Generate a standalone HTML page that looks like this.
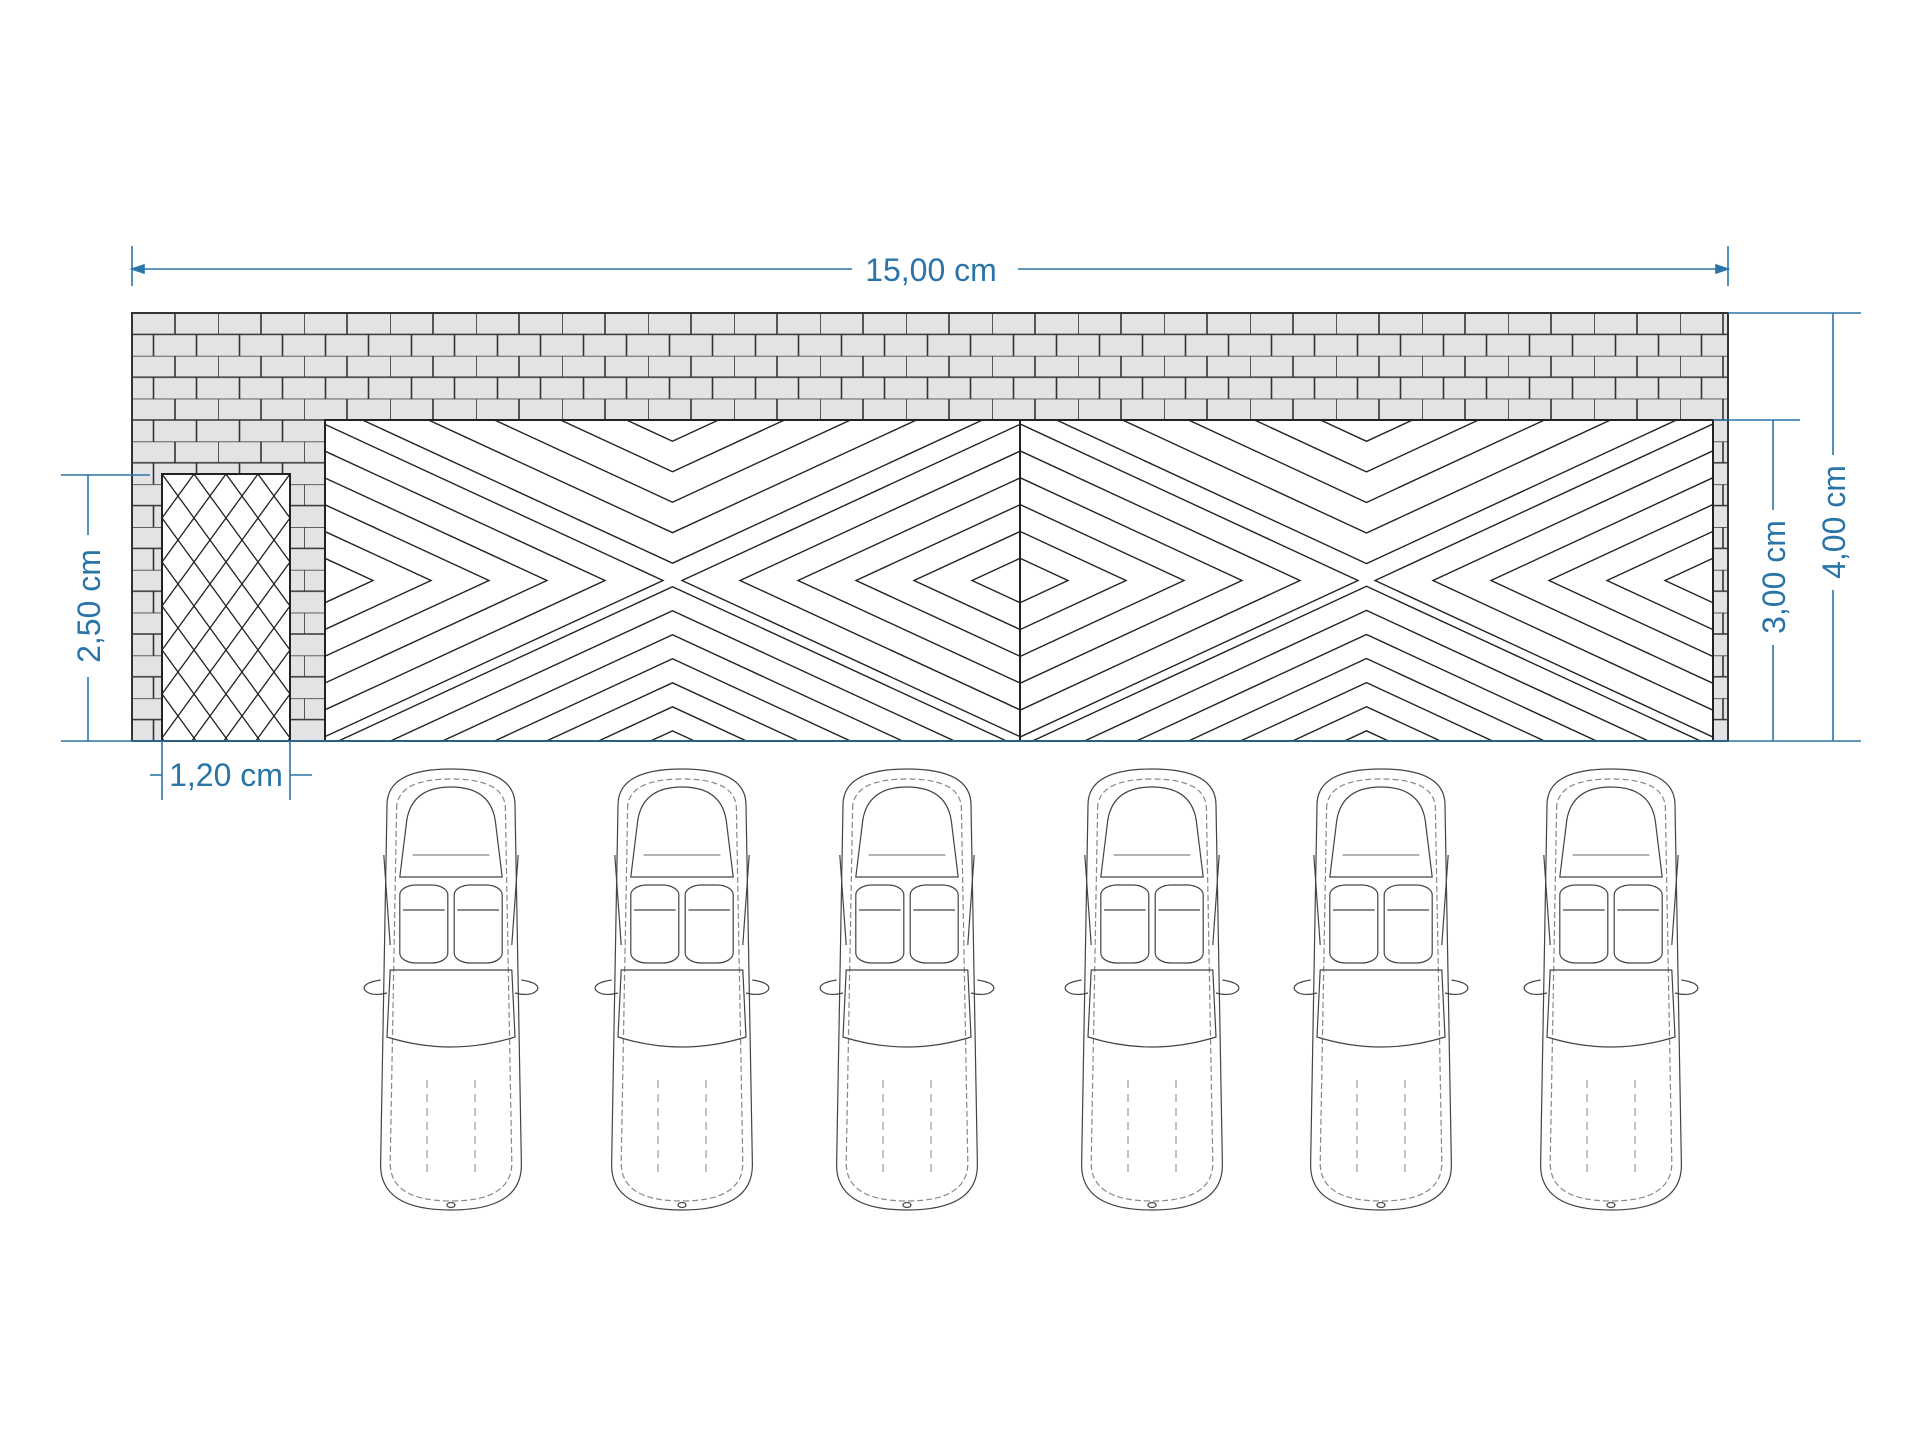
<!DOCTYPE html>
<html><head><meta charset="utf-8"><style>
html,body{margin:0;padding:0;background:#fff;}
svg{display:block;}
text{font-family:"Liberation Sans",sans-serif;fill:#2a74a8;}
#car *{vector-effect:non-scaling-stroke;}
</style></head><body>
<svg id="s" width="1920" height="1440" viewBox="0 0 1920 1440" xmlns="http://www.w3.org/2000/svg">
<defs>
<pattern id="brick" x="132" y="313" width="86" height="42.8" patternUnits="userSpaceOnUse">
<rect width="86" height="42.8" fill="#e3e3e6"/>
<g stroke="#333" stroke-width="1.6">
<line x1="0" y1="0" x2="86" y2="0"/><line x1="0" y1="21.4" x2="86" y2="21.4"/>
<line x1="0" y1="0" x2="0" y2="21.4"/><line x1="43" y1="0" x2="43" y2="21.4"/>
<line x1="21.5" y1="21.4" x2="21.5" y2="42.8"/><line x1="64.5" y1="21.4" x2="64.5" y2="42.8"/>
</g></pattern>
<pattern id="hatch" x="162" y="474" width="32" height="44" patternUnits="userSpaceOnUse">
<rect width="32" height="44" fill="#fff"/>
<g stroke="#222" stroke-width="1.3"><line x1="0" y1="0" x2="32" y2="44"/><line x1="32" y1="0" x2="0" y2="44"/></g>
</pattern>
<g id="car" fill="none" stroke="#444" stroke-width="1.2">
<path d="M20,40 Q20,4 60,4 Q100,4 100,40 L104,400 Q104,445 60,445 Q16,445 16,400 Z"/>
<path d="M26,44 Q26,14 60,14 Q94,14 94,44 L98,398 Q98,436 60,436 Q22,436 22,398 Z" stroke="#888" stroke-dasharray="6 3"/>
<path d="M32,60 Q34,22 60,22 Q86,22 88,60 L92,112 L28,112 Z"/>
<line x1="36" y1="90" x2="84" y2="90" stroke="#888"/>
<rect x="28" y="120" width="30" height="78" rx="10"/>
<rect x="62" y="120" width="30" height="78" rx="10"/>
<line x1="30" y1="145" x2="56" y2="145"/><line x1="64" y1="145" x2="90" y2="145"/>
<path d="M22,205 L98,205 L100,272 Q60,292 20,272 Z"/>
<path d="M16,215 Q4,218 6,225 Q10,232 20,228"/><path d="M104,215 Q116,218 114,225 Q110,232 100,228"/>
<line x1="45" y1="315" x2="45" y2="410" stroke="#999" stroke-dasharray="8 6"/>
<line x1="75" y1="315" x2="75" y2="410" stroke="#999" stroke-dasharray="8 6"/>
<line x1="18" y1="90" x2="22" y2="180" /><line x1="102" y1="90" x2="98" y2="180"/>
<circle cx="60" cy="440" r="2.5"/>
</g>
</defs>

<rect x="132" y="313" width="1596" height="428" fill="url(#brick)" stroke="#333" stroke-width="2"/>
<rect x="162" y="474" width="128" height="267" fill="url(#hatch)" stroke="#222" stroke-width="2"/>
<rect x="325" y="420" width="1388" height="321" fill="#fff" stroke="#222" stroke-width="2"/>
<g id="chev" stroke="#222" stroke-width="1.4" fill="none"></g>
<line x1="1020" y1="420" x2="1020" y2="741" stroke="#222" stroke-width="2"/>
<rect x="325" y="420" width="1388" height="321" fill="none" stroke="#222" stroke-width="2"/>

<g stroke="#2a74a8" stroke-width="1.6" fill="#2a74a8">
<line x1="132" y1="269" x2="852" y2="269"/><line x1="1018" y1="269" x2="1728" y2="269"/>
<line x1="132" y1="246" x2="132" y2="286"/><line x1="1728" y1="246" x2="1728" y2="286"/>
<path d="M132,269 l12,-4 v8z"/><path d="M1728,269 l-12,-4 v8z"/>
<line x1="61" y1="741" x2="1861" y2="741"/>
<line x1="1713" y1="420" x2="1800" y2="420"/>
<line x1="1728" y1="313" x2="1861" y2="313"/>
<line x1="1773" y1="420" x2="1773" y2="510"/><line x1="1773" y1="645" x2="1773" y2="741"/>
<line x1="1833" y1="313" x2="1833" y2="455"/><line x1="1833" y1="590" x2="1833" y2="741"/>
<line x1="61" y1="475" x2="150" y2="475"/>
<line x1="88" y1="475" x2="88" y2="535"/><line x1="88" y1="677" x2="88" y2="741"/>
<line x1="162" y1="741" x2="162" y2="800"/><line x1="290" y1="741" x2="290" y2="800"/>
<line x1="150" y1="775" x2="162" y2="775"/><line x1="290" y1="775" x2="312" y2="775"/>
</g>
<text x="931" y="281" font-size="32" text-anchor="middle">15,00 cm</text>
<text transform="translate(1785,577) rotate(-90)" font-size="32" text-anchor="middle">3,00 cm</text>
<text transform="translate(1845,522) rotate(-90)" font-size="32" text-anchor="middle">4,00 cm</text>
<text transform="translate(100,606) rotate(-90)" font-size="32" text-anchor="middle">2,50 cm</text>
<text x="226" y="786" font-size="32" text-anchor="middle">1,20 cm</text>

<use href="#car" transform="translate(355,765) scale(1.6,1)"/>
<use href="#car" transform="translate(586,765) scale(1.6,1)"/>
<use href="#car" transform="translate(811,765) scale(1.6,1)"/>
<use href="#car" transform="translate(1056,765) scale(1.6,1)"/>
<use href="#car" transform="translate(1285,765) scale(1.6,1)"/>
<use href="#car" transform="translate(1515,765) scale(1.6,1)"/>
</svg>
<script>
(function(){
var g=document.getElementById('chev'),NS='http://www.w3.org/2000/svg';
var svg=document.getElementById('s');var defs=svg.querySelector('defs');
var T=420,B=741,H=321;
[[325,1020],[1020,1713]].forEach(function(p,pi){
 var L=p[0],R=p[1],W=R-L,cx=(L+R)/2,cy=(T+B)/2;
 var regs=[
  {poly:[[L,T],[cx,cy],[L,B]],c:[L,cy],st:58,o:48},
  {poly:[[R,T],[cx,cy],[R,B]],c:[R,cy],st:58,o:48},
  {poly:[[L,T],[cx,cy],[R,T]],c:[cx,T],st:66,o:46},
  {poly:[[L,B],[cx,cy],[R,B]],c:[cx,B],st:52,o:22}];
 regs.forEach(function(r,ri){
  var id='cp'+pi+'_'+ri;
  var cp=document.createElementNS(NS,'clipPath');cp.setAttribute('id',id);
  var pg=document.createElementNS(NS,'polygon');
  pg.setAttribute('points',r.poly.map(function(q){return q.join(',')}).join(' '));
  cp.appendChild(pg);defs.appendChild(cp);
  var gg=document.createElementNS(NS,'g');gg.setAttribute('clip-path','url(#'+id+')');
  var ratio=H/W;
  for(var k=0;k<=16;k++){
   var a=r.o+k*r.st,b=a*ratio,x=r.c[0],y=r.c[1];
   var d=document.createElementNS(NS,'polygon');
   d.setAttribute('points',(x-a)+','+y+' '+x+','+(y-b)+' '+(x+a)+','+y+' '+x+','+(y+b));
   gg.appendChild(d);
  }
  g.appendChild(gg);
 });
});
})();
</script>
</body></html>
